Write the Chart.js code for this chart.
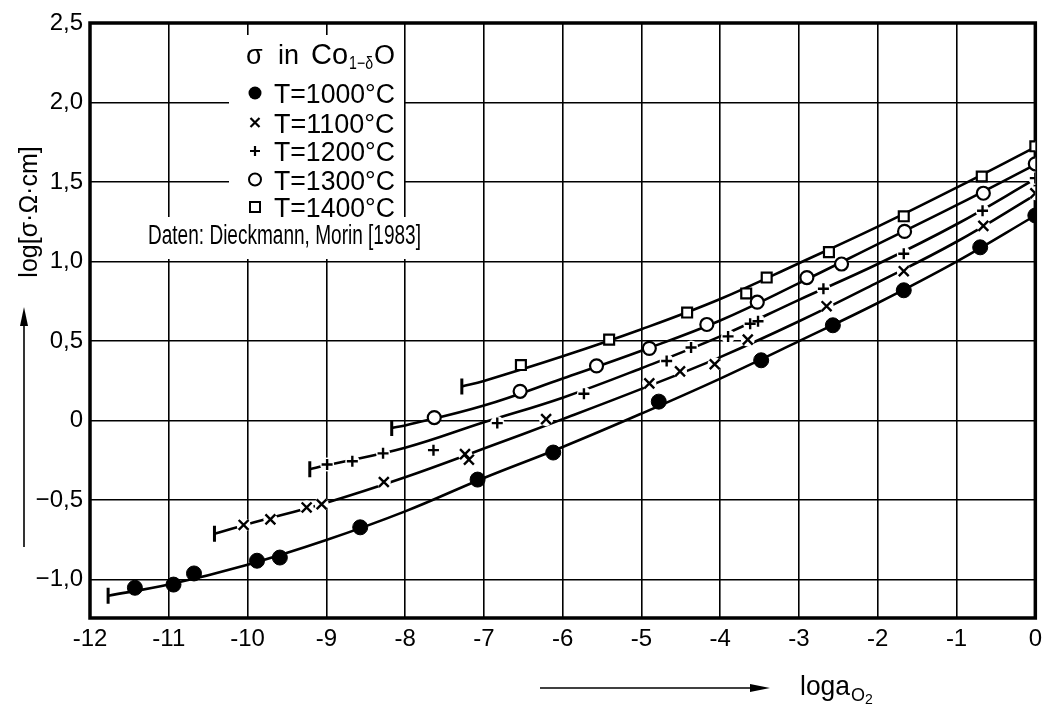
<!DOCTYPE html>
<html>
<head>
<meta charset="utf-8">
<script src="https://cdn.jsdelivr.net/npm/chart.js@4.4.0/dist/chart.umd.min.js"></script>
<style>
  html, body { margin: 0; padding: 0; background: #fff; }
  #wrap { width: 1049px; height: 706px; }
</style>
</head>
<body>
<div id="wrap"><canvas id="chart" width="1049" height="706"></canvas></div>
<script>
// measured points [log a(O2), log sigma]
const t1000 = [[-11.43,-1.05],[-10.94,-1.03],[-10.68,-0.96],[-9.88,-0.88],[-9.59,-0.86],[-8.57,-0.67],[-7.08,-0.37],[-6.12,-0.20],[-4.78,0.12],[-3.48,0.38],[-2.57,0.60],[-1.67,0.82],[-0.70,1.09],[0,1.29]];
const t1100 = [[-10.05,-0.655],[-9.71,-0.62],[-9.25,-0.545],[-9.06,-0.525],[-8.27,-0.385],[-7.24,-0.21],[-7.19,-0.245],[-6.21,0.01],[-4.90,0.235],[-4.51,0.31],[-4.07,0.355],[-3.65,0.51],[-2.65,0.72],[-1.67,0.94],[-0.66,1.225],[0,1.43]];
const t1200 = [[-8.99,-0.275],[-8.67,-0.255],[-8.28,-0.205],[-7.64,-0.185],[-6.83,-0.015],[-5.73,0.17],[-4.68,0.375],[-4.37,0.46],[-3.90,0.53],[-3.62,0.61],[-3.52,0.625],[-2.69,0.83],[-1.67,1.05],[-0.67,1.32],[0,1.525]];
const t1300 = [[-7.63,0.02],[-6.54,0.185],[-5.57,0.345],[-4.90,0.455],[-4.17,0.605],[-3.53,0.745],[-2.90,0.90],[-2.46,0.985],[-1.66,1.19],[-0.66,1.43],[0,1.615]];
const t1400 = [[-6.53,0.35],[-5.41,0.51],[-4.42,0.68],[-3.67,0.80],[-3.41,0.90],[-2.62,1.06],[-1.67,1.285],[-0.68,1.535],[0,1.725]];

// fitted curves (first point = start bar)
const fit1000 = [[-11.77,-1.10],[-11,-1.03],[-10,-0.905],[-9,-0.75],[-8,-0.57],[-7,-0.36],[-6,-0.165],[-5,0.045],[-4,0.265],[-3,0.50],[-2,0.74],[-1,1.00],[0,1.29]];
const fit1100 = [[-10.42,-0.71],[-10,-0.65],[-9,-0.515],[-8,-0.355],[-7,-0.175],[-6,0.01],[-5,0.20],[-4,0.40],[-3,0.625],[-2,0.87],[-1,1.125],[0,1.42]];
const fit1200 = [[-9.21,-0.305],[-9,-0.28],[-8,-0.17],[-7,-0.01],[-6,0.145],[-5,0.33],[-4,0.53],[-3,0.76],[-2,0.985],[-1,1.235],[0,1.52]];
const fit1300 = [[-8.17,-0.045],[-8,-0.03],[-7,0.095],[-6,0.265],[-5,0.44],[-4,0.63],[-3,0.865],[-2,1.11],[-1,1.355],[0,1.61]];
const fit1400 = [[-7.28,0.215],[-7,0.25],[-6,0.405],[-5,0.575],[-4,0.765],[-3,0.99],[-2,1.22],[-1,1.465],[0,1.72]];

const legendLabels = ['T=1000°C', 'T=1100°C', 'T=1200°C', 'T=1300°C', 'T=1400°C'];
const xTicks = [-12, -11, -10, -9, -8, -7, -6, -5, -4, -3, -2, -1, 0];
const yTicks = [-1.0, -0.5, 0, 0.5, 1.0, 1.5, 2.0, 2.5];

const FONT = "'Liberation Sans', Arial, sans-serif";
const pts = a => a.map(([x, y]) => ({ x, y }));

function curve(a) {
    return { data: pts(a), showLine: true, pointRadius: 0, borderColor: '#000', borderWidth: 2.6,
             tension: 0.4, order: 3 };
}
function mask(a) {
    return { data: pts(a), showLine: false, pointRadius: 7, pointBackgroundColor: '#fff',
             pointBorderWidth: 0, pointBorderColor: '#fff', order: 2 };
}
function marks(a, style, r, fill, bw) {
    return { data: pts(a), showLine: false, pointStyle: style, pointRadius: r,
             pointBackgroundColor: fill, pointBorderColor: '#000', pointBorderWidth: bw, order: 1 };
}

// draws text, returns the x where it ends
function text(ctx, s, x, y, size, maxW, align) {
    ctx.font = size + 'px ' + FONT;
    ctx.textAlign = align || 'left';
    ctx.textBaseline = 'alphabetic';
    let w = ctx.measureText(s).width;
    if (maxW) { ctx.fillText(s, x, y, maxW); w = Math.min(w, maxW); } else ctx.fillText(s, x, y);
    return x + w;
}

function sym(ctx, style, x, y) {
    ctx.save();
    ctx.strokeStyle = '#000';
    ctx.fillStyle = '#000';
    ctx.lineWidth = 2.2;
    ctx.beginPath();
    if (style === 'dot') { ctx.arc(x, y, 6.5, 0, Math.PI * 2); ctx.fill(); }
    if (style === 'x') { ctx.moveTo(x - 4.5, y - 4.5); ctx.lineTo(x + 4.5, y + 4.5); ctx.moveTo(x + 4.5, y - 4.5); ctx.lineTo(x - 4.5, y + 4.5); ctx.stroke(); }
    if (style === '+') { ctx.moveTo(x - 5, y); ctx.lineTo(x + 5, y); ctx.moveTo(x, y - 5); ctx.lineTo(x, y + 5); ctx.stroke(); }
    if (style === 'o') { ctx.lineWidth = 2; ctx.arc(x, y, 6, 0, Math.PI * 2); ctx.stroke(); }
    if (style === 'sq') { ctx.lineWidth = 2; ctx.rect(x - 5, y - 5, 10, 10); ctx.stroke(); }
    ctx.restore();
}

const decorPlugin = {
    id: 'decor',
    beforeDatasetsDraw(chart) {
        const ctx = chart.ctx;
        const a = chart.chartArea;
        ctx.save();
        // legend boxes hide the grid
        ctx.fillStyle = '#fff';
        ctx.fillRect(229, 35, 175, 182);
        ctx.fillRect(145, 217, 278, 42);
        // heavy frame
        ctx.strokeStyle = '#000';
        ctx.lineWidth = 3.5;
        ctx.strokeRect(a.left, a.top, a.right - a.left, a.bottom - a.top);
        ctx.restore();
    },
    afterDatasetsDraw(chart) {
        const ctx = chart.ctx;
        ctx.save();
        ctx.fillStyle = '#000';
        // legend title: sigma in Co(1-delta)O
        text(ctx, 'σ', 246, 64, 27);
        text(ctx, 'in', 278, 64, 27);
        let x = text(ctx, 'Co', 311, 64, 29);
        x = text(ctx, '1−δ', x + 1, 69, 18, 24);
        text(ctx, 'O', x + 1, 64, 27);
        const syms = ['dot', 'x', '+', 'o', 'sq'];
        const rows = [93, 122.5, 151, 179.5, 207];
        legendLabels.forEach((l, i) => {
            sym(ctx, syms[i], 255, rows[i]);
            text(ctx, l, 274, rows[i] + 10, 27, 121);
        });
        text(ctx, 'Daten: Dieckmann, Morin [1983]', 148, 244, 27, 273);

        // y title and arrow
        ctx.save();
        ctx.translate(37, 212);
        ctx.rotate(-Math.PI / 2);
        text(ctx, 'log[σ·Ω·cm]', 0, 0, 25, 146, 'center');
        ctx.restore();
        ctx.lineWidth = 1.6;
        ctx.beginPath();
        ctx.moveTo(24, 547); ctx.lineTo(24, 322); ctx.stroke();
        ctx.beginPath();
        ctx.moveTo(24, 307); ctx.lineTo(20, 326); ctx.lineTo(28, 326); ctx.closePath(); ctx.fill();

        // x title and arrow
        ctx.beginPath();
        ctx.moveTo(540, 688); ctx.lineTo(752, 688); ctx.stroke();
        ctx.beginPath();
        ctx.moveTo(770, 688); ctx.lineTo(750, 684); ctx.lineTo(750, 692); ctx.closePath(); ctx.fill();
        text(ctx, 'loga', 800, 695, 28, 50);
        text(ctx, 'O', 851, 701, 18);
        text(ctx, '2', 865, 704, 14);
        ctx.restore();
    }
};

const ends = pts([fit1000[0], fit1100[0], fit1200[0], fit1300[0], fit1400[0]]);

new Chart(document.getElementById('chart'), {
    type: 'scatter',
    data: {
        datasets: [
            curve(fit1000), curve(fit1100), curve(fit1200), curve(fit1300), curve(fit1400),
            mask(t1100), mask(t1200),
            marks(t1000, 'circle', 7.5, '#000', 1),
            marks(t1100, 'crossRot', 7, '#000', 2.4),
            marks(t1200, 'cross', 5.5, '#000', 2.4),
            marks(t1300, 'circle', 6.5, '#fff', 2.2),
            marks(t1400, 'rect', 7, '#fff', 2.2),
            { data: ends, showLine: false, pointStyle: 'line', rotation: 90, pointRadius: 8,
              pointBorderColor: '#000', pointBorderWidth: 3, order: 1 }
        ]
    },
    options: {
        responsive: false,
        animation: false,
        layout: { padding: { left: 0, top: 23, right: 5, bottom: 0 } },
        plugins: { legend: { display: false }, tooltip: { enabled: false } },
        scales: {
            x: {
                type: 'linear', min: -12, max: 0,
                afterFit: s => { s.height = 88; },
                afterBuildTicks: s => { s.ticks = xTicks.map(v => ({ value: v })); },
                grid: { color: '#000', lineWidth: 1.6, drawTicks: false },
                border: { display: false },
                ticks: { color: '#000', padding: 7, font: { family: FONT, size: 24 },
                         callback: v => String(v) }
            },
            y: {
                type: 'linear', min: -1.24, max: 2.5,
                afterFit: s => { s.width = 90; },
                afterBuildTicks: s => { s.ticks = yTicks.map(v => ({ value: v })); },
                grid: { color: '#000', lineWidth: 1.6, drawTicks: false },
                border: { display: false },
                ticks: { color: '#000', padding: 7, font: { family: FONT, size: 24 },
                         callback: v => v === 0 ? '0' : (v < 0 ? '−' : '') + Math.abs(v).toFixed(1).replace('.', ',') }
            }
        }
    },
    plugins: [decorPlugin]
});
</script>
</body>
</html>
